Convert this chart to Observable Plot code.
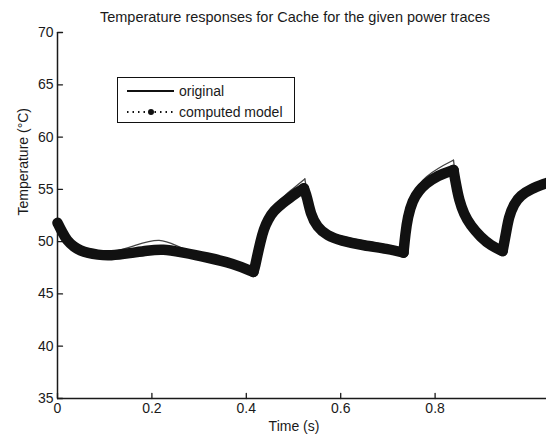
<!DOCTYPE html>
<html>
<head>
<meta charset="utf-8">
<script src="https://cdn.jsdelivr.net/npm/d3@7"></script>
<script src="https://cdn.jsdelivr.net/npm/@observablehq/plot@0.6"></script>
<style>
  html, body { margin: 0; padding: 0; background: #fff; }
  #wrap { position: relative; width: 546px; height: 436px; overflow: hidden; font-family: "Liberation Sans", Arial, sans-serif; }
  #legend { position: absolute; left: 117px; top: 77px; width: 176px; height: 44px; border: 1.5px solid #111; background: #fff; }
</style>
</head>
<body>
<div id="wrap"></div>
<script>
const title = "Temperature responses for Cache for the given power traces";
const xLabel = "Time (s)";
const yLabel = "Temperature (°C)";
const xTicks = [0, 0.2, 0.4, 0.6, 0.8];
const yTicks = [35, 40, 45, 50, 55, 60, 65, 70];
const seriesNames = ["original", "computed model"];

// phase index: 0 = initial, then alternating rise / decay segments
const phaseModel = [0,0,0,0,0,0,0,0,0,0,0,0,0,0,0,
  1,1,1,1,1,1,1,1,1,1,1,
  2,2,2,2,2,2,2,2,2,
  3,3,3,3,3,3,3,3,
  4,4,4,4,4,4,4,4,
  5,5,5,5,5,5,5];
const timeModel = [0.000, 0.010, 0.020, 0.035, 0.048, 0.065, 0.084, 0.112, 0.154, 0.190, 0.224, 0.260, 0.317, 0.373, 0.415,
  0.415, 0.419, 0.423, 0.430, 0.437, 0.446, 0.458, 0.479, 0.494, 0.508, 0.522,
  0.522, 0.529, 0.536, 0.550, 0.571, 0.600, 0.649, 0.699, 0.733,
  0.733, 0.737, 0.742, 0.752, 0.766, 0.780, 0.805, 0.839,
  0.839, 0.844, 0.851, 0.861, 0.875, 0.897, 0.918, 0.943,
  0.943, 0.950, 0.956, 0.967, 0.981, 1.003, 1.036];
const tempModel = [51.8, 50.9, 50.1, 49.5, 49.15, 48.9, 48.75, 48.65, 48.9, 49.15, 49.3, 49.0, 48.5, 47.9, 47.1,
  47.1, 47.7, 48.6, 50.0, 51.2, 52.1, 52.95, 53.77, 54.25, 54.73, 55.1,
  55.1, 54.25, 52.66, 51.38, 50.59, 50.1, 49.63, 49.31, 48.95,
  48.95, 50.75, 52.34, 53.93, 54.89, 55.53, 56.33, 56.85,
  56.85, 55.53, 53.93, 52.66, 51.54, 50.42, 49.63, 49.1,
  49.1, 50.75, 52.34, 53.62, 54.41, 55.05, 55.6];

const phaseOriginal = [0,0,0,0,0,0,0,0,0,0,0,0,0,0,
  1,1,1,1,1,1,1,1,1,1,
  2,2,2,2,2,2,2,2,2,
  3,3,3,3,3,3,3,3,
  4,4,4,4,4,4,4,4,
  5,5,5,5,5,5,5];
const timeOriginal = [0.000, 0.010, 0.020, 0.035, 0.048, 0.065, 0.084, 0.112, 0.160, 0.218, 0.260, 0.317, 0.373, 0.415,
  0.415, 0.423, 0.430, 0.437, 0.446, 0.458, 0.479, 0.494, 0.508, 0.524,
  0.524, 0.529, 0.536, 0.550, 0.571, 0.600, 0.649, 0.699, 0.733,
  0.733, 0.737, 0.742, 0.752, 0.766, 0.780, 0.805, 0.839,
  0.839, 0.844, 0.851, 0.861, 0.875, 0.897, 0.918, 0.943,
  0.943, 0.950, 0.956, 0.967, 0.981, 1.003, 1.036];
const tempOriginal = [51.8, 50.9, 50.1, 49.5, 49.15, 48.9, 48.8, 48.9, 49.55, 50.45, 49.35, 48.6, 47.95, 47.1,
  47.1, 48.7, 50.3, 51.5, 52.5, 53.4, 54.3, 54.9, 55.4, 56.0,
  56.0, 54.6, 53.0, 51.7, 50.95, 50.5, 50.05, 49.7, 49.3,
  49.3, 51.0, 52.7, 54.4, 55.5, 56.2, 57.0, 57.8,
  57.8, 55.9, 54.2, 52.9, 51.7, 50.55, 49.7, 49.15,
  49.15, 50.8, 52.4, 53.7, 54.5, 55.15, 55.7];

const model = timeModel.map((t, i) => ({t, v: tempModel[i], p: phaseModel[i]}));
const original = timeOriginal.map((t, i) => ({t, v: tempOriginal[i], p: phaseOriginal[i]}));

const font = "Liberation Sans, Arial, sans-serif";
const ink = "#1a1a1a";
const tickShapeUp = {draw(ctx, l) { ctx.moveTo(0, 0); ctx.lineTo(0, -l); }};
const tickShapeRight = {draw(ctx, l) { ctx.moveTo(0, 0); ctx.lineTo(l, 0); }};

const chart = Plot.plot({
  width: 546,
  height: 436,
  marginLeft: 57,
  marginRight: 0,
  marginTop: 32,
  marginBottom: 38,
  style: {fontFamily: font, fontSize: "14px", color: ink, background: "#fff"},
  x: {domain: [0, 1.036]},
  y: {domain: [35, 70]},
  marks: [
    Plot.axisX(xTicks, {tickSize: 0, tickPadding: 5, tickFormat: d => String(d), fontSize: 14, label: null}),
    Plot.axisY(yTicks, {tickSize: 0, tickPadding: 4, fontSize: 14, label: null}),
    Plot.vector(xTicks, {x: d => d, frameAnchor: "bottom", length: 5, anchor: "start", shape: tickShapeUp, stroke: ink, strokeWidth: 1.3}),
    Plot.vector(yTicks, {y: d => d, frameAnchor: "left", length: 5, anchor: "start", shape: tickShapeRight, stroke: ink, strokeWidth: 1.3}),
    Plot.ruleX([0], {stroke: ink, strokeWidth: 1.5}),
    Plot.ruleY([35], {stroke: ink, strokeWidth: 1.5}),
    Plot.line(original, {x: "t", y: "v", z: "p", stroke: "#444", strokeWidth: 1.3, curve: "basis"}),
    Plot.line(model, {x: "t", y: "v", z: "p", stroke: "#111", strokeWidth: 10.5, curve: "basis", strokeLinecap: "round", strokeLinejoin: "round"}),
    Plot.text([title], {frameAnchor: "top", dy: -21, dx: -7, fontSize: 14.5, fill: ink}),
    Plot.text([xLabel], {frameAnchor: "bottom", dy: 32, dx: -8, fontSize: 14, fill: ink}),
    Plot.text([yLabel], {frameAnchor: "left", dx: -34, rotate: -90, fontSize: 14, fill: ink})
  ]
});

const wrap = document.getElementById("wrap");
wrap.appendChild(chart);

const legend = document.createElement("div");
legend.id = "legend";
legend.innerHTML = `
<svg width="176" height="44" style="position:absolute;left:0;top:0;font-family:${font};">
  <line x1="9" x2="56" y1="13" y2="13" stroke="#111" stroke-width="2"/>
  <text x="61" y="13" dominant-baseline="central" font-size="14" fill="${ink}">${seriesNames[0]}</text>
  <line x1="9" x2="56" y1="34" y2="34" stroke="#111" stroke-width="2" stroke-dasharray="1.5 4"/>
  <circle cx="33" cy="34" r="3" fill="#111"/>
  <text x="61" y="34" dominant-baseline="central" font-size="14" fill="${ink}">${seriesNames[1]}</text>
</svg>`;
wrap.appendChild(legend);
</script>
</body>
</html>
